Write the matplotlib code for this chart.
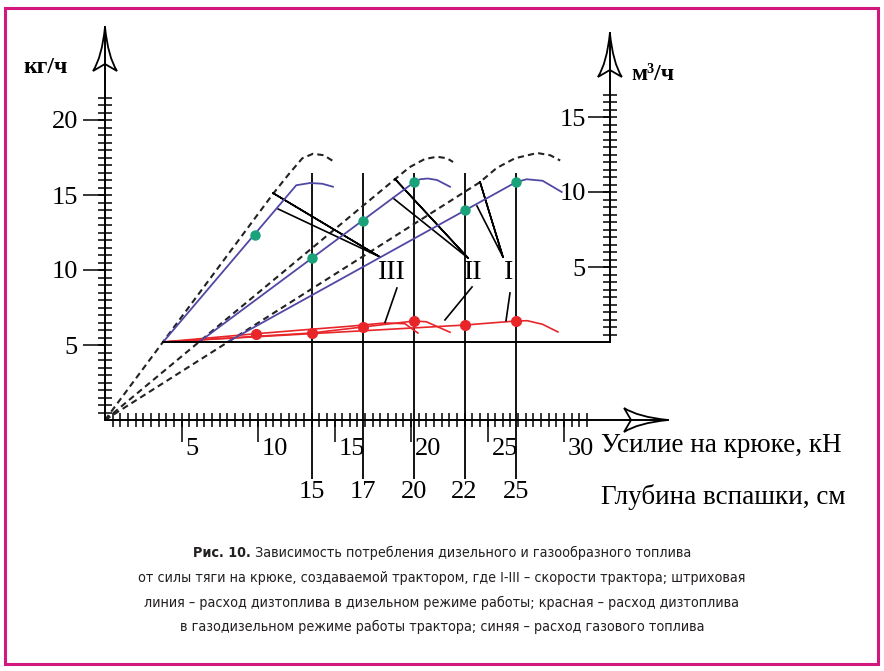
import numpy as np
import matplotlib
matplotlib.use("Agg")
import matplotlib.pyplot as plt
from matplotlib import font_manager
from matplotlib.path import Path
from matplotlib.patches import PathPatch, Rectangle
from matplotlib.transforms import ScaledTranslation

plt.rcParams['font.family'] = ['Liberation Serif', 'DejaVu Serif']

# =========================
# DATA
# =========================
# diesel mode, kg/h (dashed), speeds III, II, I
dash_III_x = [0, 11.0, 12.1, 12.9, 13.6, 14.3, 15.0]
dash_III_y = [0, 15.1, 16.5, 17.45, 17.75, 17.65, 17.2]
dash_II_x = [0, 18.95, 19.9, 20.9, 21.7, 22.35, 22.75]
dash_II_y = [0, 16.05, 16.85, 17.4, 17.55, 17.45, 17.2]
dash_I_x = [0, 24.5, 25.6, 26.8, 28.25, 29.1, 29.75]
dash_I_y = [0, 15.85, 16.8, 17.45, 17.8, 17.65, 17.3]

# gas consumption, m3/h (blue)
gas_III_x = [3.8, 12.5, 13.4, 14.2, 14.9]
gas_III_y = [0, 10.45, 10.6, 10.55, 10.35]
gas_II_x = [6.15, 20.2, 20.6, 21.1, 21.7, 22.55]
gas_II_y = [0, 10.65, 10.85, 10.9, 10.8, 10.35]
gas_I_x = [8.0, 26.85, 27.55, 28.6, 29.85]
gas_I_y = [0, 10.65, 10.85, 10.75, 10.0]
gas_pts_x = [9.8, 13.5, 16.85, 20.2, 23.5, 26.85]
gas_pts_y = [7.15, 5.6, 8.1, 10.65, 8.8, 10.65]

# diesel in gas-diesel mode, kg/h (red)
red_III_x = [3.8, 9.85, 13.5, 16.0, 18.3, 19.6, 20.45]
red_III_y = [5.2, 5.75, 6.05, 6.25, 6.47, 6.42, 5.8]
red_II_x = [3.8, 13.5, 16.85, 20.2, 21.0, 22.55]
red_II_y = [5.2, 5.8, 6.2, 6.6, 6.55, 5.85]
red_I_x = [3.8, 23.5, 26.85, 27.6, 28.6, 29.6]
red_I_y = [5.2, 6.33, 6.6, 6.62, 6.38, 5.87]
red_pts_x = [9.85, 13.5, 16.85, 20.2, 23.5, 26.85]
red_pts_y = [5.73, 5.8, 6.2, 6.6, 6.33, 6.6]

# ploughing depth lines
depth_x = [13.5, 16.85, 20.2, 23.5, 26.85]
depth_labels = ['15', '17', '20', '22', '25']

# speed labels and leader lines
speed_labels = ['III', 'II', 'I']
speed_lx = [18.75, 24.05, 26.35]
speed_ly = [9.85, 9.85, 9.85]
lead_top = [[(17.97, 10.87), (10.98, 15.13), (17.97, 10.87), (11.31, 14.07)],
            [(23.73, 10.8), (18.95, 16.07), (23.73, 10.8), (18.82, 14.8)],
            [(26.01, 10.87), (24.51, 15.87), (26.01, 10.87), (24.31, 14.27)]]
lead_red = [[(19.08, 8.8), (18.3, 6.5)],
            [(23.99, 8.87), (22.22, 6.67)],
            [(26.47, 8.47), (26.21, 6.62)]]

gas_zero = 5.2   # 0 m3/h on the right scale sits at 5.2 kg/h

# =========================
# FIGURE
# =========================
W, H = 884, 671
SX, SY = 15.3, 15.0          # px per unit
OX, OY = 105, 420            # origin in px
fig = plt.figure(figsize=(W / 100, H / 100), dpi=100)
ax = fig.add_axes([0, 0, 1, 1])
ax.set_xlim(-OX / SX, (W - OX) / SX)
ax.set_ylim(-(H - OY) / SY, OY / SY)
ax.patch.set_visible(False)

ax2 = ax.twinx()
ax2.set_ylim(ax.get_ylim()[0] - gas_zero, ax.get_ylim()[1] - gas_zero)

for a in (ax, ax2):
    for s in ('top', 'right', 'bottom', 'left'):
        a.spines[s].set_visible(False)

# main axes
ax.spines['left'].set_visible(True)
ax.spines['left'].set_position(('data', 0))
ax.spines['left'].set_bounds(0, 26.2)
ax.spines['bottom'].set_visible(True)
ax.spines['bottom'].set_position(('data', 0))
ax.spines['bottom'].set_bounds(0, 36.8)

ax.set_yticks([5, 10, 15, 20])
ax.set_yticks(np.arange(0.5, 21.6, 0.5), minor=True)
ax.set_xticks([5, 10, 15, 20, 25, 30])
ax.set_xticks(np.arange(0.5, 31.6, 0.5), minor=True)
ax.xaxis.remove_overlapping_locs = False
ax.yaxis.remove_overlapping_locs = False

# right axis (m3/h)
ax2.yaxis.tick_left()
ax2.spines['left'].set_visible(True)
ax2.spines['left'].set_position(('data', 33.0))
ax2.spines['left'].set_bounds(0, 20.6)
ax2.spines['bottom'].set_visible(True)
ax2.spines['bottom'].set_position(('data', 0))
ax2.spines['bottom'].set_bounds(3.8, 33.0)
ax2.set_yticks([5, 10, 15])
ax2.set_yticks(np.arange(0.5, 16.6, 0.5), minor=True)
ax2.yaxis.remove_overlapping_locs = False

for a in (ax, ax2):
    for s in a.spines.values():
        s.set_linewidth(1.4)
    a.tick_params(which='minor', direction='inout', length=10, width=1.1)
    a.tick_params(which='major', direction='out', length=16, width=1.1,
                  labelsize=19)
ax.tick_params(axis='y', which='major', pad=3.5)
ax2.tick_params(axis='y', which='major', pad=1.5)
ax.tick_params(axis='x', which='major', pad=-3)

off = ScaledTranslation(4 / 100, 0, fig.dpi_scale_trans)
for t in ax.xaxis.get_major_ticks():
    t.label1.set_horizontalalignment('left')
    t.label1.set_transform(t.label1.get_transform() + off)


# open arrow heads
def arrow_head(a, tip, up=True):
    sx = (a.get_xlim()[1] - a.get_xlim()[0]) / W
    sy = (a.get_ylim()[1] - a.get_ylim()[0]) / H
    pts = [(0, 0), (-3, -30), (-12, -44), (0, -37), (12, -44), (3, -30), (0, 0)]
    if not up:
        pts = [(y, -x) for x, y in pts]
    verts = [(tip[0] + px * sx, tip[1] + py * sy) for px, py in pts]
    codes = [Path.MOVETO, Path.CURVE3, Path.CURVE3, Path.LINETO,
             Path.LINETO, Path.CURVE3, Path.CURVE3]
    a.add_patch(PathPatch(Path(verts, codes), fill=False, lw=1.3,
                          ec='black', clip_on=False, zorder=3))


arrow_head(ax, (0, 26.2))
arrow_head(ax, (36.8, 0), up=False)
arrow_head(ax2, (33.0, 20.6))

# depth lines
ax.vlines(depth_x, -3.9, 16.5, color='black', lw=1.3, zorder=1)

# curves
dash_kw = dict(color='#222222', lw=1.5, dashes=(3, 2))
ax.plot(dash_III_x, dash_III_y, **dash_kw)
ax.plot(dash_II_x, dash_II_y, **dash_kw)
ax.plot(dash_I_x, dash_I_y, **dash_kw)

blue = '#5048a4'
ax2.plot(gas_III_x, gas_III_y, color=blue, lw=1.3)
ax2.plot(gas_II_x, gas_II_y, color=blue, lw=1.3)
ax2.plot(gas_I_x, gas_I_y, color=blue, lw=1.3)
ax2.plot(gas_pts_x, gas_pts_y, 'o', color='#1aa37a', ms=6.5, zorder=4)

red = '#e8262a'
ax.plot(red_III_x, red_III_y, color=red, lw=1.2)
ax.plot(red_II_x, red_II_y, color=red, lw=1.2)
ax.plot(red_I_x, red_I_y, color=red, lw=1.2)
ax.plot(red_pts_x, red_pts_y, 'o', color=red, ms=7, zorder=4)

# leaders and labels
for seg in lead_top:
    ax.plot([p[0] for p in seg], [p[1] for p in seg], color='black', lw=1.2)
for seg in lead_red:
    ax.plot([p[0] for p in seg], [p[1] for p in seg], color='black', lw=1.2)
for lab, x, y in zip(speed_labels, speed_lx, speed_ly):
    ax.text(x, y, lab, fontsize=20, ha='center', va='center')

for x, lab in zip(depth_x, depth_labels):
    ax.text(x, -4.8, lab, fontsize=19, ha='center', va='center')

ax.text(-5.3, 23.5, 'кг/ч', fontsize=17, fontweight='bold', va='center')
ax.text(34.4, 23.0, 'м³/ч', fontsize=17, fontweight='bold', va='center')
ax.text(32.4, -1.7, 'Усилие на крюке, кН', fontsize=19.5, va='center')
ax.text(32.4, -5.1, 'Глубина вспашки, см', fontsize=19.5, va='center')

# caption: pick a narrow sans if one is installed
cap_font = ['DejaVu Sans']
cap_stretch = 'normal'
for f in font_manager.fontManager.ttflist:
    if ('Narrow' in f.name or 'Condensed' in f.name or 'condensed' in f.stretch
            or 'Narrow' in f.fname or 'Condensed' in f.fname) and f.style == 'normal':
        cap_font = [f.name, 'DejaVu Sans']
        cap_stretch = f.stretch
        break
cap_col = '#231f20'
cap_lines = ['от силы тяги на крюке, создаваемой трактором, где I-III – скорости трактора; штриховая',
             'линия – расход дизтоплива в дизельном режиме работы; красная – расход дизтоплива',
             'в газодизельном режиме работы трактора; синяя – расход газового топлива']
cap_y = [578, 603, 627]

r = fig.canvas.get_renderer()
cap_kw = dict(family=cap_font, stretch=cap_stretch, color=cap_col,
              ha='center', va='center')
probe = fig.text(0.5, 0.5, cap_lines[0], fontsize=12.5, **cap_kw)
cap_size = 12.5 * 610 / probe.get_window_extent(r).width
probe.remove()

for txt, y in zip(cap_lines, cap_y):
    fig.text(0.5, 1 - y / H, txt, fontsize=cap_size, **cap_kw)

cap_kw['ha'] = 'left'
t1 = fig.text(0, 1 - 553 / H, 'Рис. 10.', fontsize=cap_size,
              fontweight='bold', **cap_kw)
t2 = fig.text(0, 1 - 553 / H, ' Зависимость потребления дизельного и газообразного топлива',
              fontsize=cap_size, **cap_kw)
w1 = t1.get_window_extent(r).width
w2 = t2.get_window_extent(r).width
x0 = (W - w1 - w2) / 2
t1.set_x(x0 / W)
t2.set_x((x0 + w1) / W)

fig.patches.append(Rectangle((5 / W, 1 - 664 / H), 873 / W, 656 / H,
                             transform=fig.transFigure, fill=False,
                             ec='#d2177f', lw=2.2))

fig.savefig('out.png', dpi=100)
